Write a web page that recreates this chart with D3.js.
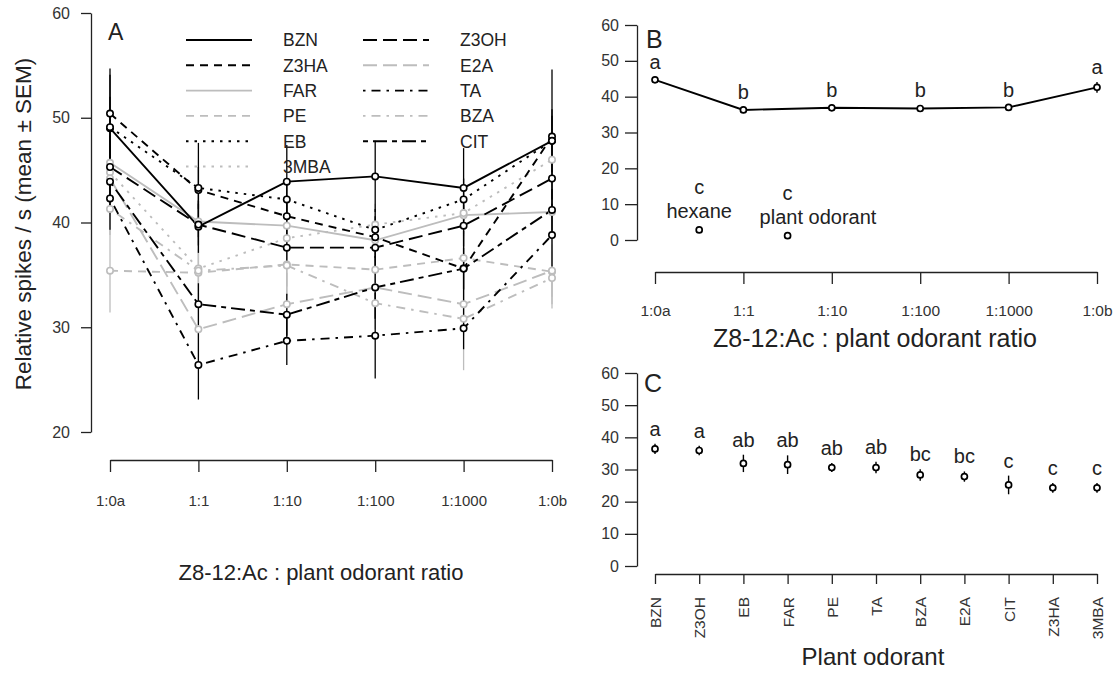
<!DOCTYPE html>
<html><head><meta charset="utf-8">
<script src="https://cdn.jsdelivr.net/npm/d3@7"></script>
<style>body{margin:0;background:#fff}svg{display:block}text{font-family:"Liberation Sans",Arial,sans-serif}</style>
</head><body><svg id="c" width="1120" height="673"></svg>
<script>
// ---------- data ----------
const ratios = ["1:0a", "1:1", "1:10", "1:100", "1:1000", "1:0b"];
const yTicksA = [20, 30, 40, 50, 60];
const yTicksBC = [0, 10, 20, 30, 40, 50, 60];

const BZN  = [49.0, 39.6, 43.9, 44.4, 43.3, 47.8];
const Z3HA = [50.4, 43.1, 40.6, 38.6, 35.6, 48.2];
const FAR  = [45.7, 40.1, 39.7, 38.3, 40.7, 41.0];
const PE   = [35.4, 35.2, 36.0, 35.5, 36.6, 35.3];
const EB   = [49.1, 43.3, 42.2, 39.3, 42.2, 47.8];
const MBA3 = [44.8, 35.6, 38.5, 39.8, 40.9, 46.0];
const Z3OH = [45.3, 39.8, 37.6, 37.6, 39.7, 44.2];
const E2A  = [44.2, 29.8, 32.2, 33.8, 32.2, 35.4];
const TA   = [42.3, 26.4, 28.7, 29.2, 29.9, 38.8];
const BZA  = [41.3, 35.4, 35.9, 32.3, 30.8, 34.7];
const CIT  = [43.9, 32.2, 31.2, 33.8, 35.6, 41.2];

const BZN_sem  = [3.0, 2.5, 3.5, 3.4, 3.8, 6.8];
const Z3HA_sem = [4.3, 4.5, 2.0, 2.0, 3.6, 2.0];
const FAR_sem  = [3.0, 2.0, 2.0, 2.0, 2.0, 2.0];
const PE_sem   = [4.0, 3.0, 3.0, 3.0, 3.0, 3.5];
const EB_sem   = [5.0, 2.0, 2.0, 2.0, 2.0, 3.0];
const MBA3_sem = [2.5, 3.0, 2.0, 2.0, 2.0, 2.0];
const Z3OH_sem = [3.0, 2.0, 2.0, 2.0, 2.0, 2.0];
const E2A_sem  = [2.5, 3.5, 3.0, 3.0, 3.0, 2.5];
const TA_sem   = [3.0, 3.3, 2.3, 4.1, 2.0, 3.0];
const BZA_sem  = [2.5, 2.0, 2.0, 2.5, 4.9, 2.5];
const CIT_sem  = [2.5, 2.0, 2.0, 3.0, 2.0, 2.0];

const legendCol1 = ["BZN", "Z3HA", "FAR", "PE", "EB", "3MBA"];
const legendCol2 = ["Z3OH", "E2A", "TA", "BZA", "CIT"];

// panel B
const bMeans = [44.7, 36.3, 36.9, 36.7, 37.0, 42.6];
const bSem = [0.8, 0.9, 0.9, 0.9, 0.8, 1.5];
const bLetters = ["a", "b", "b", "b", "b", "a"];
const ctrlNames = ["hexane", "plant odorant"];
const ctrlPos = [0.5, 1.5];
const ctrlMeans = [2.8, 1.2];
const ctrlSem = [0.5, 0.4];
const ctrlLetters = ["c", "c"];

// panel C
const odorants = ["BZN", "Z3OH", "EB", "FAR", "PE", "TA", "BZA", "E2A", "CIT", "Z3HA", "3MBA"];
const cMeans = [36.4, 35.9, 31.9, 31.5, 30.6, 30.6, 28.3, 27.8, 25.2, 24.3, 24.3];
const cSem = [1.6, 1.5, 2.7, 2.9, 1.4, 1.8, 1.8, 1.6, 2.9, 1.5, 1.5];
const cLetters = ["a", "a", "ab", "ab", "ab", "ab", "bc", "bc", "c", "c", "c"];

// ---------- styles ----------
const BLACK = "#000", GRAY = "#bdbdbd";
const DASH = {solid: null, dashed: "8,6", dotted: "2.5,6", dotdash: "2.5,6,9,6", longdash: "14,6", twodash: "5,5,14,5"};
const series = [
  {name: "BZN", v: BZN, s: BZN_sem, c: BLACK, d: "solid"},
  {name: "Z3HA", v: Z3HA, s: Z3HA_sem, c: BLACK, d: "dashed"},
  {name: "FAR", v: FAR, s: FAR_sem, c: GRAY, d: "solid"},
  {name: "PE", v: PE, s: PE_sem, c: GRAY, d: "dashed"},
  {name: "EB", v: EB, s: EB_sem, c: BLACK, d: "dotted"},
  {name: "3MBA", v: MBA3, s: MBA3_sem, c: GRAY, d: "dotted"},
  {name: "Z3OH", v: Z3OH, s: Z3OH_sem, c: BLACK, d: "longdash"},
  {name: "E2A", v: E2A, s: E2A_sem, c: GRAY, d: "longdash"},
  {name: "TA", v: TA, s: TA_sem, c: BLACK, d: "dotdash"},
  {name: "BZA", v: BZA, s: BZA_sem, c: GRAY, d: "dotdash"},
  {name: "CIT", v: CIT, s: CIT_sem, c: BLACK, d: "twodash"}
];
const byName = Object.fromEntries(series.map(s => [s.name, s]));
const drawOrder = series.filter(s => s.c === GRAY).concat(series.filter(s => s.c === BLACK));

const svg = d3.select("#c");
const TXT = "#222";

function styleAxis(g, fs) {
  g.selectAll("path.domain").attr("stroke", "#222").attr("stroke-width", 1.3);
  g.selectAll(".tick line").attr("stroke", "#222").attr("stroke-width", 1.3);
  g.selectAll(".tick text").attr("fill", "#333").style("font-size", fs + "px").style("font-family", '"Liberation Sans",Arial,sans-serif');
}

// ---------- Panel A ----------
const xA = d3.scalePoint().domain(ratios).range([110, 552]);
const yA = d3.scaleLinear().domain([20, 60]).range([432, 13]);

const gAy = svg.append("g").attr("transform", "translate(91,0)")
  .call(d3.axisLeft(yA).tickValues(yTicksA).tickSize(10).tickSizeOuter(0).tickPadding(11));
styleAxis(gAy, 16);
const gAx = svg.append("g").attr("transform", "translate(0,460)")
  .call(d3.axisBottom(xA).tickSize(12).tickSizeOuter(0).tickPadding(23));
styleAxis(gAx, 15);

svg.append("text").attr("transform", "translate(31,224) rotate(-90)").attr("text-anchor", "middle")
  .attr("fill", TXT).style("font-size", "22.5px").text("Relative spikes / s (mean \u00b1 SEM)");
svg.append("text").attr("x", 321).attr("y", 580).attr("text-anchor", "middle")
  .attr("fill", TXT).style("font-size", "22px").text("Z8-12:Ac : plant odorant ratio");
svg.append("text").attr("x", 108).attr("y", 40).attr("fill", TXT).style("font-size", "23px").text("A");

const gA = svg.append("g");
// error bars
drawOrder.forEach(s => {
  gA.append("g").selectAll("line").data(ratios).join("line")
    .attr("x1", d => xA(d)).attr("x2", d => xA(d))
    .attr("y1", (d, i) => yA(s.v[i] - s.s[i])).attr("y2", (d, i) => yA(s.v[i] + s.s[i]))
    .attr("stroke", s.c).attr("stroke-width", 1.3);
});
const lineA = d3.line().x((d, i) => xA(ratios[i])).y(d => yA(d));
drawOrder.forEach(s => {
  gA.append("path").datum(s.v).attr("d", lineA).attr("fill", "none")
    .attr("stroke", s.c).attr("stroke-width", 1.9).attr("stroke-dasharray", DASH[s.d]);
});
drawOrder.forEach(s => {
  gA.append("g").selectAll("circle").data(s.v).join("circle")
    .attr("cx", (d, i) => xA(ratios[i])).attr("cy", d => yA(d)).attr("r", 3.2)
    .attr("fill", "#fff").attr("stroke", s.c).attr("stroke-width", 1.6);
});

// legend
function legendCol(names, x0, xt) {
  names.forEach((n, i) => {
    const s = byName[n], y = 40 + i * 25.3;
    svg.append("line").attr("x1", x0).attr("x2", x0 + 66).attr("y1", y).attr("y2", y)
      .attr("stroke", s.c).attr("stroke-width", 1.9).attr("stroke-dasharray", DASH[s.d]);
    svg.append("text").attr("x", xt).attr("y", y).attr("dy", "0.36em").attr("fill", TXT)
      .style("font-size", "17.5px").text(n);
  });
}
legendCol(legendCol1, 186, 283);
legendCol(legendCol2, 363, 460);

// ---------- Panel B ----------
const xB = d3.scaleLinear().domain([0, ratios.length - 1]).range([655, 1097]);
const yB = d3.scaleLinear().domain([0, 60]).range([240, 25]);
const gBy = svg.append("g").attr("transform", "translate(637,0)")
  .call(d3.axisLeft(yB).tickValues(yTicksBC).tickSize(12).tickSizeOuter(0).tickPadding(6));
styleAxis(gBy, 16);
const gBx = svg.append("g").attr("transform", "translate(0,272)")
  .call(d3.axisBottom(xB).tickValues(d3.range(ratios.length)).tickFormat(i => ratios[i])
    .tickSize(12).tickSizeOuter(0).tickPadding(21));
styleAxis(gBx, 15.5);
svg.append("text").attr("x", 875).attr("y", 347).attr("text-anchor", "middle")
  .attr("fill", TXT).style("font-size", "25px").text("Z8-12:Ac : plant odorant ratio");
svg.append("text").attr("x", 646).attr("y", 48).attr("fill", TXT).style("font-size", "25px").text("B");

const gB = svg.append("g");
gB.append("path").datum(bMeans).attr("d", d3.line().x((d, i) => xB(i)).y(d => yB(d)))
  .attr("fill", "none").attr("stroke", BLACK).attr("stroke-width", 1.9);
function pts(g, xs, means, sems, letters, yS, fs) {
  g.append("g").selectAll("line").data(means).join("line")
    .attr("x1", (d, i) => xs[i]).attr("x2", (d, i) => xs[i])
    .attr("y1", (d, i) => yS(d - sems[i])).attr("y2", (d, i) => yS(d + sems[i]))
    .attr("stroke", BLACK).attr("stroke-width", 1.4);
  g.append("g").selectAll("circle").data(means).join("circle")
    .attr("cx", (d, i) => xs[i]).attr("cy", d => yS(d)).attr("r", 3)
    .attr("fill", "#fff").attr("stroke", BLACK).attr("stroke-width", 1.7);
  g.append("g").selectAll("text").data(letters).join("text")
    .attr("x", (d, i) => xs[i]).attr("y", (d, i) => yS(means[i] + sems[i]) - 8)
    .attr("text-anchor", "middle").attr("fill", TXT).style("font-size", fs + "px").text(d => d);
}
pts(gB, bMeans.map((d, i) => xB(i)), bMeans, bSem, bLetters, yB, 20);
pts(gB, ctrlPos.map(p => xB(p)), ctrlMeans, ctrlSem, ctrlLetters.map(() => ""), yB, 20);
// control labels
gB.append("g").selectAll("text.lt").data(ctrlLetters).join("text")
  .attr("x", (d, i) => xB(ctrlPos[i])).attr("y", (d, i) => yB(ctrlMeans[i]) - 36)
  .attr("text-anchor", "middle").attr("fill", TXT).style("font-size", "20px").text(d => d);
gB.append("g").selectAll("text.nm").data(ctrlNames).join("text")
  .attr("x", (d, i) => i === 0 ? xB(ctrlPos[i]) : xB(ctrlPos[i]) - 28)
  .attr("y", (d, i) => yB(ctrlMeans[i]) - 12)
  .attr("text-anchor", (d, i) => i === 0 ? "middle" : "start")
  .attr("fill", TXT).style("font-size", "20px").text(d => d);

// ---------- Panel C ----------
const xC = d3.scalePoint().domain(odorants).range([655, 1097]);
const yC = d3.scaleLinear().domain([0, 60]).range([566, 373]);
const gCy = svg.append("g").attr("transform", "translate(637,0)")
  .call(d3.axisLeft(yC).tickValues(yTicksBC).tickSize(12).tickSizeOuter(0).tickPadding(6));
styleAxis(gCy, 16);
const gCx = svg.append("g").attr("transform", "translate(0,574)")
  .call(d3.axisBottom(xC).tickSize(10).tickSizeOuter(0));
styleAxis(gCx, 15.5);
gCx.selectAll(".tick text").attr("transform", "rotate(-90)").attr("text-anchor", "end")
  .attr("x", -23).attr("y", 0).attr("dy", "0.35em");
svg.append("text").attr("x", 873).attr("y", 665).attr("text-anchor", "middle")
  .attr("fill", TXT).style("font-size", "24px").text("Plant odorant");
svg.append("text").attr("x", 644).attr("y", 392).attr("fill", TXT).style("font-size", "25px").text("C");
pts(svg.append("g"), odorants.map(o => xC(o)), cMeans, cSem, cLetters, yC, 20);
</script></body></html>
